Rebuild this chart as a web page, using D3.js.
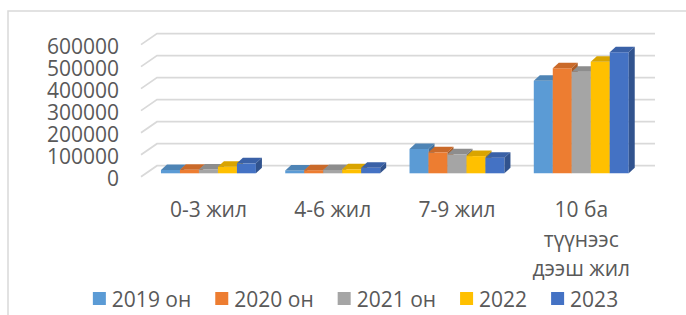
<!DOCTYPE html>
<html>
<head>
<meta charset="utf-8">
<script src="https://cdn.jsdelivr.net/npm/d3@7"></script>
<style>
  body { margin: 0; background: #fff; }
  svg text { font-family: "Open Sans", sans-serif; fill: #595959; }
</style>
</head>
<body>
<div id="chart"></div>
<script>
const categories = ["0-3 жил", "4-6 жил", "7-9 жил", "10 ба түүнээс дээш жил"];
const seriesNames = ["2019 он", "2020 он", "2021 он", "2022", "2023"];
const seriesColors = ["#5b9bd5", "#ed7d31", "#a5a5a5", "#ffc000", "#4472c4"];
// values per series, in category order
const values2019 = [15000, 13000, 110000, 419000];
const values2020 = [16000, 14000, 95000, 476000];
const values2021 = [17000, 15000, 86000, 460000];
const values2022 = [30000, 18000, 78000, 506000];
const values2023 = [45000, 25000, 71000, 548000];
const yTicks = [0, 100000, 200000, 300000, 400000, 500000, 600000];

const seriesValues = [values2019, values2020, values2021, values2022, values2023];

const width = 686, height = 315;
const svg = d3.select("#chart").append("svg")
  .attr("width", width)
  .attr("height", height);

// chart frame (only top and left edges fall inside the picture)
svg.append("rect")
  .attr("x", 8).attr("y", 11)
  .attr("width", 720).attr("height", 340)
  .attr("fill", "none")
  .attr("stroke", "#d9d9d9")
  .attr("stroke-width", 1.5);

// 3d depth of the walls and of the bars
const wallDx = 16, wallDy = -11;
const barDx = 6, barDy = -5.5;

const yFront = d3.scaleLinear().domain([0, 600000]).range([176.7, 44.6]);
const yBar = d3.scaleLinear().domain([0, 600000]).range([173.3, 40.9]);

const x0 = d3.scaleBand()
  .domain(categories)
  .range([146.3, 643.4])
  .paddingInner(0.236)
  .paddingOuter(0.118);

const x1 = d3.scaleBand()
  .domain(seriesNames)
  .range([0, x0.bandwidth()]);

// gridlines: short diagonal on the side wall, then across the back wall
const gridLeft = 141, gridRight = 655;
svg.append("g")
  .selectAll("polyline")
  .data(yTicks)
  .join("polyline")
  .attr("points", d => [
    [gridLeft, yFront(d)],
    [gridLeft + wallDx, yFront(d) + wallDy],
    [gridRight, yFront(d) + wallDy]
  ].join(" "))
  .attr("fill", "none")
  .attr("stroke", "#d9d9d9")
  .attr("stroke-width", 1.75);

// Y axis labels
const yAxis = svg.append("g")
  .attr("transform", "translate(119, 2)")
  .call(d3.axisLeft(yFront).tickValues(yTicks).tickSize(0).tickPadding(0).tickFormat(d3.format("d")));
yAxis.select(".domain").remove();
yAxis.selectAll("text")
  .style("font-family", "'Open Sans', sans-serif")
  .style("font-size", "21px")
  .attr("fill", "#595959");

// bars
const bars = [];
categories.forEach((c, ci) => {
  seriesNames.forEach((s, si) => {
    bars.push({ cat: c, series: s, value: seriesValues[si][ci], color: seriesColors[si] });
  });
});

const barG = svg.append("g");
const base = yBar(0);
bars.forEach(d => {
  const x = x0(d.cat) + x1(d.series);
  const w = x1.bandwidth();
  const top = yBar(d.value);
  const g = barG.append("g");
  g.append("polygon")
    .attr("points", [[x, top], [x + w, top], [x + w, base], [x, base]].join(" "))
    .attr("fill", d.color);
  g.append("polygon")
    .attr("points", [[x, top], [x + w, top], [x + w + barDx, top + barDy], [x + barDx, top + barDy]].join(" "))
    .attr("fill", d3.color(d.color).darker(0.45));
  g.append("polygon")
    .attr("points", [[x + w, top], [x + w + barDx, top + barDy], [x + w + barDx, base + barDy], [x + w, base]].join(" "))
    .attr("fill", d3.color(d.color).darker(0.9));
});

// category labels, wrapped to the category width
const lineHeight = 29.5;
const catG = svg.append("g");
categories.forEach(c => {
  const t = catG.append("text")
    .attr("x", x0(c) + x0.bandwidth() / 2)
    .attr("y", 217)
    .attr("text-anchor", "middle")
    .style("font-size", "21px");
  const words = c.split(" ");
  let line = [];
  let lineNo = 0;
  let tspan = t.append("tspan").attr("x", x0(c) + x0.bandwidth() / 2).attr("dy", 0);
  words.forEach(wd => {
    line.push(wd);
    tspan.text(line.join(" "));
    if (tspan.node().getComputedTextLength() > x0.step() - 4 && line.length > 1) {
      line.pop();
      tspan.text(line.join(" "));
      line = [wd];
      lineNo++;
      tspan = t.append("tspan")
        .attr("x", x0(c) + x0.bandwidth() / 2)
        .attr("dy", lineHeight)
        .text(wd);
    }
  });
});

// legend
const legend = svg.append("g");
const items = legend.selectAll("g")
  .data(seriesNames)
  .join("g");
items.append("rect")
  .attr("width", 13).attr("height", 13)
  .attr("y", 292)
  .attr("fill", (d, i) => seriesColors[i]);
items.append("text")
  .attr("x", 19)
  .attr("y", 306.5)
  .style("font-size", "21px")
  .text(d => d);

let cursor = 0;
const offsets = [];
items.each(function () {
  offsets.push(cursor);
  const tw = d3.select(this).select("text").node().getComputedTextLength();
  cursor += 19 + tw + 24;
});
const legendWidth = cursor - 24;
const legendStart = 355.5 - legendWidth / 2;
items.attr("transform", (d, i) => `translate(${legendStart + offsets[i]}, 0)`);
</script>
</body>
</html>
